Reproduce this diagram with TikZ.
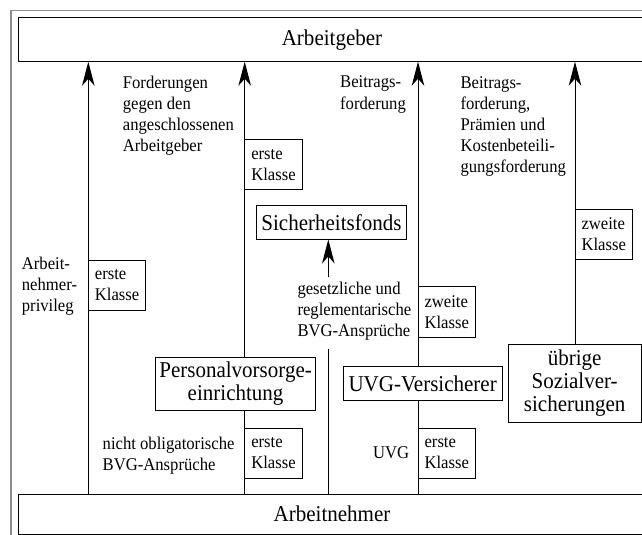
\documentclass[tikz,border=0pt]{standalone}
\usepackage{fontspec}
\setmainfont{Liberation Serif}[FakeStretch=0.93]
\usetikzlibrary{arrows.meta}
\definecolor{framegray}{RGB}{140,140,140}
\newcommand\smallfnt{\fontsize{17.9}{21}\selectfont}
\newcommand\bigfnt{\fontsize{22.6}{23}\selectfont}
\begin{document}
\begin{tikzpicture}[x=1pt,y=-1pt,
  box/.style={draw, line width=1pt, inner sep=0pt, outer sep=0pt},
  big/.style={box, font=\bigfnt, align=center},
  cls/.style={box, anchor=north west, minimum width=57.5pt, minimum height=50.5pt, font=\smallfnt, align=left},
  lbl/.style={anchor=base west, inner sep=0pt, font=\smallfnt, align=left},
  ln/.style={line width=1pt},
  arr/.style={ln, -{Stealth[length=24pt,width=12.5pt,inset=7pt]}},
]
\clip (0,0) rectangle (642,535);
\draw[line width=1.6pt, color=framegray] (11,545) -- (11,10.7) -- (660,10.7);

% main boxes
\node[big, minimum width=628pt, minimum height=43.7pt] (AG) at (332,39.85) {Arbeitgeber};
\node[big, minimum width=628pt, minimum height=40pt] (AN) at (332,514) {Arbeitnehmer};
\node[big, minimum width=160.2pt, minimum height=53.7pt] (PV) at (235.6,383.85) {Personalvorsorge-\\einrichtung};
\node[big, minimum width=158.7pt, minimum height=34pt] (UV) at (422.65,383.7) {UVG-Versicherer};
\node[big, minimum width=133.4pt, minimum height=78.7pt] (UB) at (574.7,383.35) {übrige\\Sozialver-\\sicherungen};
\node[big, minimum width=150.4pt, minimum height=34pt] (SF) at (331.5,222.45) {Sicherheitsfonds};

% class boxes
\node[cls] (k1) at (88.3,260) {erste\\Klasse};
\node[cls] (k2) at (244.7,139.3) {erste\\Klasse};
\node[cls] (k3) at (244.7,428) {erste\\Klasse};
\node[cls] (k4) at (418,428) {erste\\Klasse};
\node[cls] (z1) at (418,286.5) {zweite\\Klasse};
\node[cls] (z2) at (575,209) {zweite\\Klasse};

% labels (anchor = baseline of the last line)
\node[lbl] (t1) at (122.7,151) {Forderungen\\gegen den\\angeschlossenen\\Arbeitgeber};
\node[lbl] (t2) at (340,109) {Beitrags-\\forderung};
\node[lbl] (t3) at (460.3,172) {Beitrags-\\forderung,\\Prämien und\\Kostenbeteili-\\gungsforderung};
\node[lbl] (t4) at (21.7,311) {Arbeit-\\nehmer-\\privileg};
\node[lbl] (t5) at (297.3,336.7) {gesetzliche und\\reglementarische\\BVG-Ansprüche};
\node[lbl] (t6) at (102.5,470) {nicht obligatorische\\BVG-Ansprüche};
\node[lbl] (t7) at (373,458.5) {UVG};

% connectors
\draw[arr] (k1.west |- AN.north) -- (k1.west |- AG.south);
\draw[arr] (k2.west |- PV.north) -- (k2.west |- AG.south);
\draw[ln] (k3.west |- AN.north) -- (k3.west |- PV.south);
\draw[arr] (z1.west |- UV.north) -- (z1.west |- AG.south);
\draw[ln] (k4.west |- AN.north) -- (k4.west |- UV.south);
\draw[arr] (z2.west |- UB.north) -- (z2.west |- AG.south);
\coordinate (sfa) at (328.3,277);
\coordinate (sfb) at (328.3,349);
\draw[arr] (sfa) -- (sfa |- SF.south);
\draw[ln] (sfb) -- (sfb |- AN.north);
\end{tikzpicture}
\end{document}
